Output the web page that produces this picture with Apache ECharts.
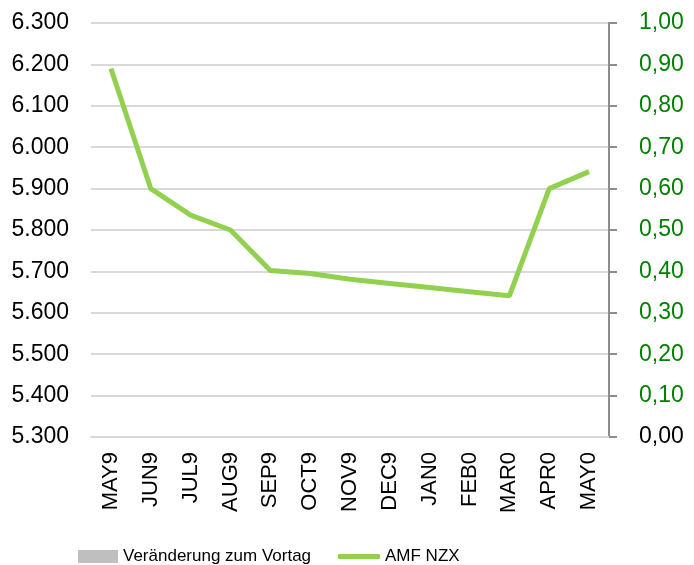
<!DOCTYPE html>
<html>
<head>
<meta charset="utf-8">
<script src="https://cdn.jsdelivr.net/npm/echarts@6/dist/echarts.min.js"></script>
<style>
  html, body { margin: 0; padding: 0; background: #fff; }
  #chart { width: 694px; height: 565px; }
</style>
</head>
<body>
<div id="chart"></div>
<script>
// Monate (x-Achse)
var months = ['MAY9', 'JUN9', 'JUL9', 'AUG9', 'SEP9', 'OCT9', 'NOV9', 'DEC9', 'JAN0', 'FEB0', 'MAR0', 'APR0', 'MAY0'];
// AMF NZX Kurs (linke Achse)
var amfValues = [6190, 5900, 5836, 5800, 5702, 5695, 5681, 5671, 5661, 5651, 5641, 5900, 5941];
// Veränderung zum Vortag (rechte Achse) - keine Balken im Bild
var changeValues = [];

var green = '#92D050';
var font = 'Liberation Sans, Arial, sans-serif';

// 6300 -> "6.300"
function fmtThousand(v) {
    var s = String(Math.round(v));
    return s.replace(/\B(?=(\d{3})+(?!\d))/g, '.');
}

var legendText = { fontFamily: font, fontSize: 17, color: '#000' };

var chart = echarts.init(document.getElementById('chart'));
chart.setOption({
    animation: false,
    grid: { left: 91, right: 85, top: 23, bottom: 128 },
    // zwei Legenden, damit Balken- und Linien-Symbol unterschiedlich hoch sind
    legend: [
        {
            left: 78,
            top: 548,
            padding: 0,
            itemWidth: 40,
            itemHeight: 13,
            itemGap: 5,
            textStyle: legendText,
            data: [{ name: 'Veränderung zum Vortag', icon: 'rect' }]
        },
        {
            left: 338,
            top: 548,
            padding: 0,
            itemWidth: 42,
            itemHeight: 5,
            textStyle: legendText,
            data: [{ name: 'AMF NZX', icon: 'roundRect' }]
        }
    ],
    xAxis: {
        type: 'category',
        data: months,
        boundaryGap: true,
        axisLine: { show: true, lineStyle: { color: '#D9D9D9', width: 2 } },
        axisTick: { show: false },
        axisLabel: {
            rotate: 90,
            margin: 15,
            interval: 0,
            color: '#000',
            fontFamily: font,
            fontSize: 22
        }
    },
    yAxis: [
        {
            type: 'value',
            min: 5300,
            max: 6300,
            interval: 100,
            axisLine: { show: false },
            axisTick: { show: false },
            splitLine: { lineStyle: { color: '#D9D9D9', width: 2 } },
            axisLabel: {
                margin: 22,
                color: '#000',
                fontFamily: font,
                fontSize: 23,
                formatter: fmtThousand
            }
        },
        {
            type: 'value',
            min: 0,
            max: 1,
            interval: 0.1,
            position: 'right',
            axisLine: { show: true, lineStyle: { color: '#8C8C8C', width: 2 } },
            axisTick: { show: true, inside: false, length: 8, lineStyle: { color: '#8C8C8C', width: 2 } },
            splitLine: { show: false },
            axisLabel: {
                margin: 30,
                fontFamily: font,
                fontSize: 23,
                color: function (v, i) { return Number(v) === 0 ? '#000' : '#008000'; },
                formatter: function (v) { return v.toFixed(2).replace('.', ','); }
            }
        }
    ],
    series: [
        {
            name: 'Veränderung zum Vortag',
            type: 'bar',
            yAxisIndex: 1,
            itemStyle: { color: '#BFBFBF' },
            data: changeValues
        },
        {
            name: 'AMF NZX',
            type: 'line',
            yAxisIndex: 0,
            symbol: 'none',
            lineStyle: { color: green, width: 5 },
            itemStyle: { color: green },
            data: amfValues
        }
    ]
});
</script>
</body>
</html>
